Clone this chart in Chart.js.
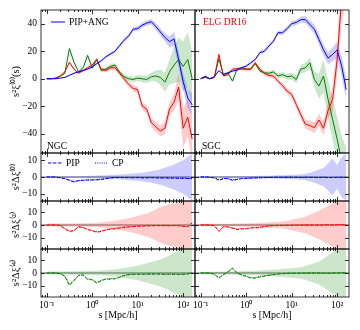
<!DOCTYPE html>
<html>
<head>
<meta charset="utf-8">
<script src="https://cdn.jsdelivr.net/npm/chart.js@4.4.0/dist/chart.umd.min.js"></script>
<style>
  html, body { margin: 0; padding: 0; background: #fff; }
  #fig { position: relative; width: 360px; height: 330px; overflow: hidden; }
  #fig canvas { position: absolute; }
</style>
</head>
<body>
<div id="fig">
  <canvas id="nTop"></canvas><canvas id="sTop"></canvas>
  <canvas id="nD0"></canvas><canvas id="sD0"></canvas>
  <canvas id="nD2"></canvas><canvas id="sD2"></canvas>
  <canvas id="nD4"></canvas><canvas id="sD4"></canvas>
</div>
<script>
// separation bins, Mpc/h
const S = [0.1, 0.126, 0.158, 0.2, 0.251, 0.316, 0.398, 0.501, 0.631, 0.794,
           1, 1.26, 1.58, 2, 2.51, 3.16, 3.98, 5.01, 6.31, 7.94,
           10, 12.6, 15.8, 20, 25.1, 31.6, 39.8, 50.1, 63.1, 79.4,
           100, 126, 158];

// NGC, s^2 xi_l (PIP+ANG) and errors
const xi0N = [0,0,0,0.5,1, 2.5,4,5,6,7, 8.5,11,13,16,18, 20,24,28,31,36, 36.5,39,40.5,41.5,38, 34,30,27,29,14, -2,-14,-19];
const xi2N = [0,0,0.5,2,5, 12,7,4,6,8, 10,14,7,6,8, 8,4,0,-4,-7, -8,-20,-22,-32,-35, -38,-36,-22,-17,-6, -36,-28,-44];
const xi4N = [0,0,0.5,2,4, 22,12,5,8,17, 8,14,6,7,9, 10,5,1.5,0,-0.5, 0.5,0,-0.5,1.5,2, 1,-2.5,5,10,14, 9,14,0];
const err0N = [0.2,0.2,0.3,0.3,0.4, 0.5,0.5,0.6,0.6,0.7, 0.8,0.8,0.9,1,1, 1.1,1.2,1.3,1.4,1.5, 1.6,1.7,1.8,2,2.3, 2.7,3,4,5,6, 6,7,8];
const err2N = [0.2,0.2,0.3,0.5,0.7, 1,0.8,0.8,0.9,1, 1,1.2,1.2,1.3,1.4, 1.5,1.6,1.8,2,2.2, 2.5,2.8,3,3.2,3.5, 4,4.5,5,6,10, 14,14,16];
const err4N = [0.2,0.2,0.3,0.5,0.7, 1,1,0.8,1,1.2, 1.2,1.2,1.3,1.4,1.5, 1.5,1.6,1.7,1.8,2, 2.2,2.4,2.6,3,4, 5.5,7,9,13,16, 18,20,20];

// SGC
const xi0S = [0,1.5,0,1.5,6, 3,4.4,5.6,6.3,8, 9.2,11.6,14,19,20, 23.8,27.4,33.5,33.5,36.4, 40,41,43,43,39.5, 36,28.6,21,15,17.7, 21,9,-8];
const xi2S = [0,1,0,1,17.7, 2,3,7,7.3,7, 7,7,11.6,7,4, 2.4,2,-1.7,-5,-9, -11.4,-18.7,-26,-33,-34, -35.6,-30,-36,-23,-15, 14,60,80];
const xi4S = [0,2,0,1,14.5, 3,4,-1.7,7,8, 7,7,11,5.6,4.4, 4,5,2,3,1.5, 2,-0.5,7,8,11.6, -0.5,-5.3,2,-15,-29.6, -44,-60,-70];
const err0S = [0.3,0.3,0.3,0.4,0.5, 0.6,0.6,0.7,0.8,0.8, 0.9,1,1,1.1,1.2, 1.3,1.4,1.5,1.6,1.7, 1.8,2,2.2,2.5,2.8, 3.2,3.6,4,4.5,5, 6,7,8];
const err2S = [0.3,0.3,0.4,0.5,1, 0.8,0.8,0.9,1,1, 1,1.1,1.2,1.3,1.4, 1.5,1.6,1.8,2,2.2, 2.4,2.7,3,3.3,3.6, 4,4.5,5,6,8, 12,18,25];
const err4S = [0.3,0.3,0.4,0.5,1, 0.8,0.8,0.9,1,1, 1,1.1,1.2,1.3,1.4, 1.5,1.6,1.8,2,2.2, 2.5,2.8,3,3.5,4, 6,9,12,14,15, 16,18,20];

// residuals s^2 Delta xi_l : PIP (dashed) and CP (dotted), band = error around 0
const pip0N = [0,0,-0.1,-0.5,-1, -2,-3,-2.2,-2,-1.8, -1.8,-1.7,-1.5,-1,-0.6, -0.3,-0.3,-0.4,-0.4,-0.4, -0.4,-0.5,-0.5,-0.4,-0.5, -0.6,-0.5,-0.7,-0.6,-0.8, -0.7,-0.9,-1];
const cp0N  = [0,0,0,-0.4,-0.9, -1.8,-2.6,-2.1,-1.9,-1.7, -1.7,-1.6,-1.4,-0.9,-0.5, -0.3,-0.3,-0.3,-0.3,-0.4, -0.3,-0.4,-0.4,-0.4,-0.4, -0.5,-0.5,-0.6,-0.5,-0.7, -0.6,-0.8,-0.9];
const pip2N = [0,0,0,-0.5,-3, -5,-4.5,-1.5,-2,-3.5, -4.5,-5.6,-5,-3.8,-3.2, -3,-2.3,-1.8,-1.5,-1.2, -1,-0.8,-0.7,-0.6,-0.5, -0.5,-0.5,-0.6,-0.5,-0.5, -1,-1.5,2];
const cp2N  = [0,0,0,-0.4,-2.6, -4.6,-4.2,-1.4,-1.8,-3.2, -4.2,-5.2,-4.7,-3.6,-3, -2.8,-2.1,-1.7,-1.4,-1.1, -0.9,-0.7,-0.6,-0.5,-0.4, -0.4,-0.5,-0.5,-0.4,-0.4, -0.8,-1.2,1.6];
const pip4N = [0,0,0,-0.5,-2.6, -9.5,-6,-2,-1.5,-5, -5.3,-7.8,-6,-4.8,-4.7, -4.5,-3.5,-2,-1.3,-1, -1,-1,-0.9,-0.9,-0.8, -0.8,-1,-0.9,-1,-1.2, -1,-0.8,0.5];
const cp4N  = [0,0,0,-0.4,-2.3, -8.8,-5.6,-1.8,-1.4,-4.6, -4.9,-7.2,-5.6,-4.5,-4.4, -4.2,-3.2,-1.8,-1.2,-0.9, -0.9,-0.9,-0.8,-0.8,-0.7, -0.7,-0.9,-0.8,-0.9,-1, -0.9,-0.7,0.4];
const sig0N = [0.3,0.3,0.3,0.3,0.4, 0.4,0.5,0.5,0.6,0.7, 0.8,0.9,1,1.1,1.2, 1.3,1.5,1.7,1.9,2.1, 2.3,2.6,3,3.4,4, 4.6,5.5,6.5,7.5,9, 10,12,14];
const sig2N = [1.2,1.2,1.2,1.2,1.2, 1.2,1.2,1.3,1.3,1.4, 1.5,1.7,2,2.3,2.7, 3.2,3.8,4.5,5.2,6, 7,8,9,10.5,12, 14,15,16,17,18, 19,20,20];
const sig4N = [1.2,1.2,1.2,1.2,1.2, 1.3,1.3,1.4,1.5,1.6, 1.7,1.8,2,2.2,2.5, 2.8,3.2,3.8,4.4,5, 5.7,6.5,7.5,8.5,9.5, 10.5,12,13.5,15.5,17, 18.5,19,20];

const pip0S = [0,0,-0.2,-0.5,-2, -1,-1,-2,-1.5,-1, -0.9,-0.7,-0.6,-0.5,-0.4, -0.3,-0.2,-0.2,-0.2,-0.2, -0.2,-0.2,-0.3,-0.2,-0.2, -0.3,-0.3,-0.2,-0.4,-0.3, -0.3,-0.2,-0.3];
const cp0S  = [0,0,-0.2,-0.4,-1.7, -0.9,-0.9,-1.7,-1.3,-0.9, -0.8,-0.6,-0.5,-0.4,-0.3, -0.3,-0.2,-0.2,-0.2,-0.1, -0.2,-0.2,-0.2,-0.2,-0.2, -0.2,-0.3,-0.2,-0.3,-0.3, -0.2,-0.2,-0.2];
const pip2S = [0,0,0,-0.5,-5, -1.5,-1.5,-2.5,-3.5,-3, -3,-2.3,-2.3,-2,-1.2, -0.8,-0.5,-0.4,-0.3,-0.2, -0.2,-0.1,-0.1,0,0, 0,0,0,0.2,0, 0.2,0.3,0.2];
const cp2S  = [0,0,0,-0.4,-4.4, -1.3,-1.3,-2.2,-3.1,-2.7, -2.7,-2.1,-2,-1.8,-1.1, -0.7,-0.4,-0.3,-0.3,-0.2, -0.2,-0.1,-0.1,0,0, 0,0,0,0.1,0, 0.2,0.2,0.2];
const pip4S = [0,0,0,-1,-4, -1.5,1,3.9,0,-1.5, -2.6,-4,-3.9,-3,-2.5, -1.8,-1.3,-0.8,-0.5,-0.3, -0.2,-0.2,-0.1,-0.1,0, 0,0,0,-0.2,0, 0,0.2,0];
const cp4S  = [0,0,0,-0.9,-3.6, -1.3,0.9,3.4,0,-1.3, -2.3,-3.6,-3.5,-2.7,-2.2, -1.6,-1.2,-0.7,-0.4,-0.3, -0.2,-0.2,-0.1,-0.1,0, 0,0,0,-0.2,0, 0,0.2,0];
const sig0S = [0.3,0.3,0.3,0.3,0.3, 0.4,0.4,0.4,0.5,0.5, 0.5,0.6,0.6,0.7,0.7, 0.8,0.9,1,1.1,1.2, 1.3,1.4,1.6,2,2.6, 3.5,4.5,5.5,8,11, 7,12,14];
const sig2S = [1,1,1,1,1, 1,1,1,1.1,1.2, 1.3,1.4,1.5,1.7,1.9, 2.1,2.3,2.6,2.8,3.3, 4,5,5.6,6.5,8, 9.5,11,13,15,17, 19,20,20];
const sig4S = [1,1,1,1,1, 1.1,1.1,1.2,1.3,1.4, 1.5,1.6,1.7,1.9,2.1, 2.3,2.5,2.8,3.1,3.4, 3.7,4,4.5,5.5,6.5, 7.5,9,11,13.5,16, 18,19,20];

// ticks
const xTicks = [0.1, 1, 10, 100];
const xTickLabels = ['10\u207B\u00B9', '10\u2070', '10\u00B9', '10\u00B2'];
const yTicksTop = [-40, -20, 0, 20, 40];
const yTicksRes = [-10, 0, 10];

const BLUE = '#0000ff', RED = '#ff0000', GREEN = '#008000';
const BLUE_A = 'rgba(0,0,255,0.2)', RED_A = 'rgba(255,0,0,0.2)', GREEN_A = 'rgba(0,128,0,0.2)';
const FONT = 'Liberation Serif';
const FS = 9.5;

const COLS = [[41, 195], [195, 349]];
const ROWS = [[10, 153], [153, 201], [201, 249], [249, 297]];

function pts(ys) {
  return S.map((s, i) => ({x: s, y: ys[i]}));
}
function edge(ys, es, sign) {
  return S.map((s, i) => ({x: s, y: (ys ? ys[i] : 0) + sign * es[i]}));
}
function line(ys, color, dash) {
  return {data: pts(ys), borderColor: color, borderWidth: 1, borderDash: dash || [],
          pointRadius: 0, fill: false, tension: 0};
}
function band(ys, es, color) {
  return [
    {data: edge(ys, es, -1), borderWidth: 0, borderColor: 'transparent', pointRadius: 0, fill: false},
    {data: edge(ys, es, 1), borderWidth: 0, borderColor: 'transparent', pointRadius: 0, fill: '-1', backgroundColor: color}
  ];
}

// frame with inward ticks on every side, zero line, texts
const framePlugin = {
  id: 'frame',
  beforeDatasetsDraw(chart, args, o) {
    if (!o.zero) return;
    const {ctx, chartArea: a, scales} = chart;
    const y0 = scales.y.getPixelForValue(0);
    ctx.save();
    ctx.strokeStyle = 'rgba(0,0,0,0.75)';
    ctx.lineWidth = 0.8;
    ctx.beginPath();
    ctx.moveTo(a.left, y0); ctx.lineTo(a.right, y0);
    ctx.stroke();
    ctx.restore();
  },
  afterDraw(chart, args, o) {
    const {ctx, chartArea: a, scales} = chart;
    const xs = scales.x, ys = scales.y;
    ctx.save();
    ctx.strokeStyle = '#000';
    ctx.lineWidth = 0.8;
    ctx.beginPath();
    for (let k = -2; k <= 2; k++) {
      for (let m = 1; m <= 9; m++) {
        const v = m * Math.pow(10, k);
        if (v < xs.min || v > xs.max) continue;
        const p = Math.round(xs.getPixelForValue(v)) + 0.5;
        const len = m === 1 ? 4 : 2;
        ctx.moveTo(p, a.bottom); ctx.lineTo(p, a.bottom - len);
        ctx.moveTo(p, a.top); ctx.lineTo(p, a.top + len);
      }
    }
    o.yMajor.forEach(v => {
      const p = Math.round(ys.getPixelForValue(v)) + 0.5;
      ctx.moveTo(a.left, p); ctx.lineTo(a.left + 4, p);
      ctx.moveTo(a.right, p); ctx.lineTo(a.right - 4, p);
    });
    ctx.stroke();
    ctx.strokeRect(a.left, a.top, a.right - a.left, a.bottom - a.top);

    (o.items || []).forEach(it => {
      if (it.text) {
        ctx.font = FS + 'px "' + FONT + '"';
        ctx.fillStyle = it.color || '#000';
        ctx.textAlign = 'left';
        ctx.textBaseline = 'middle';
        ctx.fillText(it.text, it.x, it.y);
      } else {
        ctx.strokeStyle = it.color;
        ctx.lineWidth = 1;
        ctx.setLineDash(it.dash || []);
        ctx.beginPath();
        ctx.moveTo(it.x1, it.y); ctx.lineTo(it.x2, it.y);
        ctx.stroke();
        ctx.setLineDash([]);
      }
    });
    ctx.restore();
  }
};

function makePanel(id, col, row, datasets, yRange, yMajor, yTitle, items) {
  const cv = document.getElementById(id);
  const cl = col === 0 ? 0 : 193;
  const cw = col === 0 ? 197 : 167;
  const top = row === 0 ? 0 : ROWS[row][0] - 2;
  const bottom = row === 3 ? 330 : ROWS[row][1] + 2;
  cv.width = cw;
  cv.height = bottom - top;
  cv.style.left = cl + 'px';
  cv.style.top = top + 'px';
  const bottomRow = row === 3;
  const leftCol = col === 0;

  const shifted = (items || []).map(it => Object.assign({}, it, {
    x: it.x !== undefined ? it.x - cl : undefined,
    x1: it.x1 !== undefined ? it.x1 - cl : undefined,
    x2: it.x2 !== undefined ? it.x2 - cl : undefined,
    y: it.y - top
  }));

  new Chart(cv, {
    type: 'line',
    data: {datasets: datasets},
    options: {
      responsive: false,
      animation: false,
      events: [],
      layout: {
        autoPadding: false,
        padding: {
          left: leftCol ? 0 : COLS[1][0] - cl,
          right: cl + cw - COLS[col][1],
          top: ROWS[row][0] - top,
          bottom: bottomRow ? 0 : bottom - ROWS[row][1]
        }
      },
      plugins: {
        legend: {display: false},
        tooltip: {enabled: false},
        frame: {yMajor: yMajor, zero: row > 0, items: shifted}
      },
      scales: {
        x: {
          type: 'logarithmic',
          min: 0.075, max: 182,
          display: bottomRow,
          grid: {display: false, drawTicks: false},
          border: {display: false},
          afterBuildTicks: s => { s.ticks = xTicks.map(v => ({value: v})); },
          afterFit: s => {
            if (!bottomRow) return;
            s.height = 33; s.paddingLeft = 0; s.paddingRight = 0;
          },
          ticks: {
            autoSkip: false, maxRotation: 0, padding: 3, color: '#000',
            font: {family: FONT, size: FS},
            callback: (v) => xTickLabels[xTicks.indexOf(v)]
          },
          title: {
            display: bottomRow, text: 's [Mpc/h]', color: '#000',
            font: {family: FONT, size: 10}, padding: {top: 0, bottom: 9}
          }
        },
        y: {
          type: 'linear',
          min: yRange[0], max: yRange[1],
          display: leftCol,
          grid: {display: false, drawTicks: false},
          border: {display: false},
          afterBuildTicks: s => { s.ticks = yMajor.map(v => ({value: v})); },
          afterFit: s => {
            if (!leftCol) return;
            s.width = 41; s.paddingTop = 0; s.paddingBottom = 0;
          },
          ticks: {
            padding: 4, color: '#000',
            font: {family: FONT, size: FS},
            callback: v => String(v).replace('-', '\u2212')
          },
          title: {
            display: leftCol, text: yTitle, color: '#000',
            font: {family: FONT, size: 10.5}, padding: {top: 10, bottom: 0}
          }
        }
      }
    },
    plugins: [framePlugin]
  });
}

const topRange = [-54, 50];
const r0Range = [-14.3, 14.3];
const r24Range = [-18.6, 18.6];

// top row: multipoles
makePanel('nTop', 0, 0, [
  line(xi0N, BLUE), line(xi2N, RED), line(xi4N, GREEN),
  ...band(xi0N, err0N, BLUE_A), ...band(xi2N, err2N, RED_A), ...band(xi4N, err4N, GREEN_A)
], topRange, yTicksTop, 's\u00B2\u03BE\u207D\u2070\u207E(s)', [
  {x1: 51, x2: 65, y: 22, color: BLUE},
  {text: 'PIP+ANG', x: 69, y: 22},
  {text: 'NGC', x: 47, y: 146}
]);
makePanel('sTop', 1, 0, [
  line(xi0S, BLUE), line(xi2S, RED), line(xi4S, GREEN),
  ...band(xi0S, err0S, BLUE_A), ...band(xi2S, err2S, RED_A), ...band(xi4S, err4S, GREEN_A)
], topRange, yTicksTop, '', [
  {text: 'ELG DR16', x: 203, y: 22, color: RED},
  {text: 'SGC', x: 202, y: 146}
]);

// residual rows
makePanel('nD0', 0, 1, [
  line(pip0N, BLUE, [3.5, 1.5]), line(cp0N, BLUE, [1, 1.2]), ...band(null, sig0N, BLUE_A)
], r0Range, yTicksRes, 's\u00B2\u0394\u03BE\u207D\u2070\u207E', [
  {x1: 48, x2: 62, y: 163, color: BLUE, dash: [3.5, 1.5]},
  {text: 'PIP', x: 66, y: 163},
  {x1: 95, x2: 108, y: 163, color: BLUE, dash: [1, 1.2]},
  {text: 'CP', x: 112, y: 163}
]);
makePanel('sD0', 1, 1, [
  line(pip0S, BLUE, [3.5, 1.5]), line(cp0S, BLUE, [1, 1.2]), ...band(null, sig0S, BLUE_A)
], r0Range, yTicksRes, '', []);

makePanel('nD2', 0, 2, [
  line(pip2N, RED, [3.5, 1.5]), line(cp2N, RED, [1, 1.2]), ...band(null, sig2N, RED_A)
], r24Range, yTicksRes, 's\u00B2\u0394\u03BE\u207D\u00B2\u207E', []);
makePanel('sD2', 1, 2, [
  line(pip2S, RED, [3.5, 1.5]), line(cp2S, RED, [1, 1.2]), ...band(null, sig2S, RED_A)
], r24Range, yTicksRes, '', []);

makePanel('nD4', 0, 3, [
  line(pip4N, GREEN, [3.5, 1.5]), line(cp4N, GREEN, [1, 1.2]), ...band(null, sig4N, GREEN_A)
], r24Range, yTicksRes, 's\u00B2\u0394\u03BE\u207D\u2074\u207E', []);
makePanel('sD4', 1, 3, [
  line(pip4S, GREEN, [3.5, 1.5]), line(cp4S, GREEN, [1, 1.2]), ...band(null, sig4S, GREEN_A)
], r24Range, yTicksRes, '', []);
</script>
</body>
</html>
